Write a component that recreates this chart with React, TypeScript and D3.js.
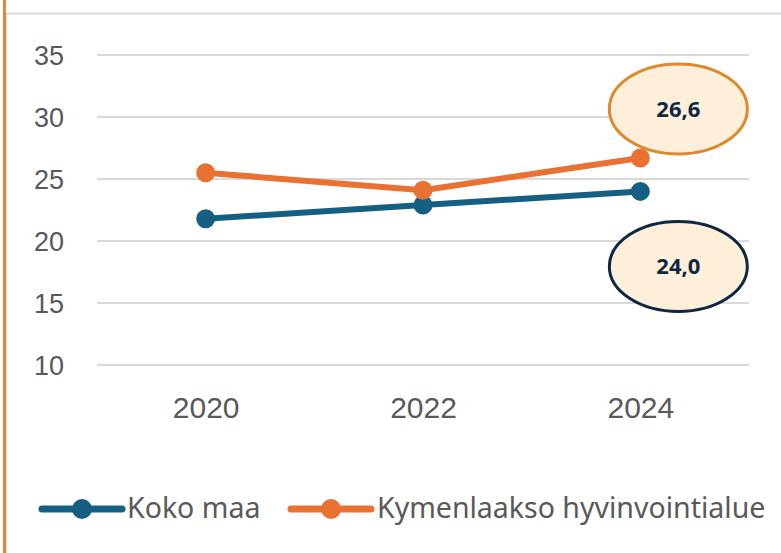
import React from "react";
import * as d3 from "d3";

const years = ["2020", "2022", "2024"];
const kokoMaa = [21.8, 22.9, 24.0];
const kymenlaakso = [25.5, 24.1, 26.7];
const yTicks = [10, 15, 20, 25, 30, 35];
const seriesNames = ["Koko maa", "Kymenlaakso hyvinvointialue"];
const calloutLabels = ["26,6", "24,0"];

const W = 781;
const H = 553;
const BLUE = "#156082";
const ORANGE = "#E97132";
const DARK = "#0E2841";

export default function App() {
  const x = d3.scalePoint<string>().domain(years).range([97, 749]).padding(0.5);
  const y = d3.scaleLinear().domain([10, 35]).range([365, 55]);
  const line = d3
    .line<number>()
    .x((_, i) => x(years[i]) as number)
    .y((d) => y(d));

  const series = [
    { name: seriesNames[0], values: kokoMaa, color: BLUE },
    { name: seriesNames[1], values: kymenlaakso, color: ORANGE },
  ];

  const lastX = x(years[2]) as number;
  const callouts = [
    { text: calloutLabels[0], cx: lastX + 38, cy: y(kymenlaakso[2]) - 49, stroke: "#DD8A2E" },
    { text: calloutLabels[1], cx: lastX + 38, cy: y(kokoMaa[2]) + 75, stroke: DARK },
  ];

  const legend = [
    { x0: 42, x1: 122, textX: 127, ...series[0] },
    { x0: 291, x1: 371, textX: 377, ...series[1] },
  ];

  return (
    <svg
      width={W}
      height={H}
      style={{ position: "absolute", left: 0, top: 0, background: "#fff" }}
    >
      <rect x={0} y={0} width={W} height={H} fill="#fff" />
      {/* frame lines */}
      <line x1={6} x2={W} y1={13.5} y2={13.5} stroke="#d9d9d9" strokeWidth={2} />
      <line x1={6.5} x2={6.5} y1={13} y2={H} stroke="#e0e0e0" strokeWidth={1.5} />
      <line x1={4.5} x2={4.5} y1={0} y2={H} stroke="#DD8A2E" strokeWidth={3} />

      {/* grid */}
      {yTicks.map((t) => (
        <g key={t}>
          <line x1={97} x2={749} y1={y(t)} y2={y(t)} stroke="#d9d9d9" strokeWidth={2} />
          <text
            x={64}
            y={y(t)}
            dy="0.36em"
            textAnchor="end"
            fontFamily="'Liberation Sans', Arial, sans-serif"
            fontSize={27}
            fill="#595959"
          >
            {t}
          </text>
        </g>
      ))}

      {/* x labels */}
      {years.map((yr) => (
        <text
          key={yr}
          x={(x(yr) as number) + 0.5}
          y={418}
          textAnchor="middle"
          fontFamily="'Liberation Sans', Arial, sans-serif"
          fontSize={30}
          fill="#595959"
        >
          {yr}
        </text>
      ))}

      {/* lines */}
      {series.map((s) => (
        <g key={s.name}>
          <path d={line(s.values) || ""} fill="none" stroke={s.color} strokeWidth={6} strokeLinejoin="round" />
          {s.values.map((v, i) => (
            <circle key={i} cx={x(years[i]) as number} cy={y(v)} r={9.5} fill={s.color} />
          ))}
        </g>
      ))}

      {/* callouts */}
      {callouts.map((c) => (
        <g key={c.text}>
          <ellipse cx={c.cx} cy={c.cy} rx={69} ry={45} fill="#FDEFD9" stroke={c.stroke} strokeWidth={3} />
          <text
            x={c.cx}
            y={c.cy}
            dy="0.36em"
            textAnchor="middle"
            fontFamily="'Noto Sans', 'Open Sans', sans-serif"
            fontWeight="bold"
            fontSize={22}
            fill={DARK}
          >
            {c.text}
          </text>
        </g>
      ))}

      {/* legend */}
      {legend.map((l) => (
        <g key={l.name}>
          <line x1={l.x0} x2={l.x1} y1={509} y2={509} stroke={l.color} strokeWidth={7} strokeLinecap="round" />
          <circle cx={(l.x0 + l.x1) / 2} cy={509} r={10} fill={l.color} />
          <text
            x={l.textX}
            y={518}
            fontFamily="'Noto Sans', sans-serif"
            fontSize={28.5}
            fill="#595959"
          >
            {l.name}
          </text>
        </g>
      ))}
    </svg>
  );
}
